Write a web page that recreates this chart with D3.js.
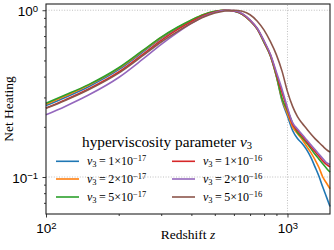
<!DOCTYPE html>
<html>
<head>
<meta charset="utf-8">
<script src="https://cdn.jsdelivr.net/npm/d3@7"></script>
<style>
  body { margin: 0; background: #fff; }
  svg { display: block; font-family: "Liberation Serif", "DejaVu Serif", serif; }
</style>
</head>
<body>
<svg id="chart" width="334" height="250"></svg>
<script>
// redshift grid the curves were read at
const redshift = [100, 120, 150, 200, 250, 300, 350, 400, 450, 500, 550, 600, 650, 700, 750,
  800, 850, 900, 950, 1000, 1050, 1100, 1150, 1200, 1250, 1300, 1350, 1400, 1450, 1500];

const heat1e17 = [0.268, 0.300, 0.348, 0.440, 0.558, 0.678, 0.780, 0.866, 0.938, 0.981, 1.000, 0.988, 0.945, 0.865, 0.770,
  0.640, 0.530, 0.400, 0.285, 0.232, 0.190, 0.170, 0.159, 0.146, 0.131, 0.115, 0.101, 0.087, 0.076, 0.0665];
const heat2e17 = [0.273, 0.306, 0.355, 0.448, 0.566, 0.686, 0.787, 0.872, 0.942, 0.983, 1.000, 0.990, 0.946, 0.866, 0.771,
  0.642, 0.532, 0.402, 0.290, 0.240, 0.200, 0.182, 0.168, 0.153, 0.140, 0.127, 0.114, 0.100, 0.092, 0.085];
const heat5e17 = [0.277, 0.310, 0.358, 0.452, 0.570, 0.690, 0.790, 0.875, 0.944, 0.984, 1.000, 0.990, 0.946, 0.866, 0.772,
  0.644, 0.535, 0.405, 0.295, 0.250, 0.210, 0.185, 0.172, 0.160, 0.148, 0.137, 0.128, 0.120, 0.113, 0.107];
const heat1e16 = [0.259, 0.290, 0.337, 0.426, 0.540, 0.660, 0.765, 0.855, 0.930, 0.977, 1.000, 0.990, 0.950, 0.870, 0.775,
  0.650, 0.540, 0.415, 0.320, 0.255, 0.207, 0.190, 0.176, 0.163, 0.152, 0.142, 0.133, 0.125, 0.119, 0.115];
const heat2e16 = [0.236, 0.265, 0.310, 0.395, 0.505, 0.625, 0.735, 0.835, 0.918, 0.970, 0.998, 0.995, 0.955, 0.875, 0.780,
  0.655, 0.545, 0.425, 0.335, 0.260, 0.212, 0.194, 0.180, 0.167, 0.156, 0.146, 0.137, 0.129, 0.122, 0.119];
const heat5e16 = [0.258, 0.288, 0.334, 0.420, 0.530, 0.645, 0.745, 0.835, 0.910, 0.962, 0.990, 1.000, 0.985, 0.940, 0.860,
  0.760, 0.648, 0.540, 0.430, 0.325, 0.265, 0.230, 0.210, 0.195, 0.181, 0.170, 0.161, 0.153, 0.146, 0.141];

const nuMantissa = ['1', '2', '5', '1', '2', '5'];
const nuExponent = ['\u221217', '\u221217', '\u221217', '\u221216', '\u221216', '\u221216'];
const colors = ['#1f77b4', '#ff7f0e', '#2ca02c', '#d62728', '#9467bd', '#8c564b'];
const allSeries = [heat1e17, heat2e17, heat5e17, heat1e16, heat2e16, heat5e16];

const xMajor = [100, 1000];
const xMinor = [200, 300, 400, 500, 600, 700, 800, 900];
const yMajor = [0.1, 1];
const yMinor = [0.07, 0.08, 0.09, 0.2, 0.3, 0.4, 0.5, 0.6, 0.7, 0.8, 0.9];

const margin = { left: 46, right: 4, top: 4, bottom: 36 };
const width = 334, height = 250;

const svg = d3.select('#chart');

const x = d3.scaleLog().domain([100, 1500]).range([margin.left, width - margin.right]);
const y = d3.scaleLog().domain([0.06, 1.09]).range([height - margin.bottom, margin.top]);

// grid at major ticks
const grid = svg.append('g')
  .attr('stroke', '#b0b0b0')
  .attr('stroke-width', 0.8)
  .attr('stroke-dasharray', '1,1.6');
grid.selectAll('.gx')
  .data(xMajor.filter(d => d > 100))
  .join('line')
  .attr('x1', d => x(d)).attr('x2', d => x(d))
  .attr('y1', y.range()[0]).attr('y2', y.range()[1]);
grid.selectAll('.gy')
  .data(yMajor)
  .join('line')
  .attr('y1', d => y(d)).attr('y2', d => y(d))
  .attr('x1', x.range()[0]).attr('x2', x.range()[1]);

// curves
const line = d3.line()
  .x((d, i) => x(redshift[i]))
  .y(d => y(d))
  .curve(d3.curveMonotoneX);

svg.append('g')
  .selectAll('path')
  .data(allSeries)
  .join('path')
  .attr('fill', 'none')
  .attr('stroke', (d, i) => colors[i])
  .attr('stroke-width', 1.6)
  .attr('d', line);

// axes
const bottom = height - margin.bottom;
svg.append('g')
  .attr('transform', `translate(0,${bottom})`)
  .call(d3.axisBottom(x).tickValues(xMinor).tickSize(2).tickFormat(''))
  .call(g => g.select('.domain').remove());
const xAx = svg.append('g')
  .attr('transform', `translate(0,${bottom})`)
  .call(d3.axisBottom(x).tickValues(xMajor).tickSize(3.5).tickFormat(''))
  .call(g => g.select('.domain').remove());

svg.append('g')
  .attr('transform', `translate(${margin.left},0)`)
  .call(d3.axisLeft(y).tickValues(yMinor).tickSize(2).tickFormat(''))
  .call(g => g.select('.domain').remove());
const yAx = svg.append('g')
  .attr('transform', `translate(${margin.left},0)`)
  .call(d3.axisLeft(y).tickValues(yMajor).tickSize(3.5).tickFormat(''))
  .call(g => g.select('.domain').remove());

svg.selectAll('.tick line').attr('stroke', '#222').attr('stroke-width', 0.9);

xAx.selectAll('.tick').append('text')
  .attr('y', 19)
  .attr('text-anchor', 'middle')
  .attr('fill', '#000')
  .attr('font-size', 13.5)
  .each(function (d) {
    const t = d3.select(this);
    t.append('tspan').text('10');
    t.append('tspan').attr('baseline-shift', '40%').attr('font-size', 9.5).text(Math.round(Math.log10(d)));
  });

yAx.selectAll('.tick').append('text')
  .attr('x', -8)
  .attr('dy', 5)
  .attr('text-anchor', 'end')
  .attr('fill', '#000')
  .attr('font-size', 13.5)
  .each(function (d) {
    const t = d3.select(this);
    t.append('tspan').text('10');
    t.append('tspan').attr('baseline-shift', '40%').attr('font-size', 9.5).text(String(Math.round(Math.log10(d))).replace('-', '\u2212'));
  });

// frame
svg.append('rect')
  .attr('x', margin.left).attr('y', margin.top)
  .attr('width', width - margin.left - margin.right)
  .attr('height', height - margin.top - margin.bottom)
  .attr('fill', 'none')
  .attr('stroke', '#222')
  .attr('stroke-width', 1.1);

// axis labels
svg.append('text')
  .attr('x', (x.range()[0] + x.range()[1]) / 2)
  .attr('y', 239)
  .attr('text-anchor', 'middle')
  .attr('font-size', 13.5)
  .call(t => {
    t.append('tspan').text('Redshift ');
    t.append('tspan').attr('font-style', 'italic').text('z');
  });

svg.append('text')
  .attr('transform', `translate(13,${(y.range()[0] + y.range()[1]) / 2}) rotate(-90)`)
  .attr('text-anchor', 'middle')
  .attr('font-size', 13.5)
  .text('Net Heating');

// legend
const legend = svg.append('g');
legend.append('text')
  .attr('x', 82).attr('y', 146.5)
  .attr('font-size', 15.3)
  .call(t => {
    t.append('tspan').text('hyperviscosity parameter ');
    t.append('tspan').attr('font-style', 'italic').text('\u03bd');
    t.append('tspan').attr('baseline-shift', '-22%').attr('font-size', 10.5).text('3');
  });

const rowY = [161.3, 179, 197];
const colX = [56, 172];
const item = legend.selectAll('.item')
  .data(colors)
  .join('g')
  .attr('transform', (d, i) => `translate(${colX[Math.floor(i / 3)]},${rowY[i % 3]})`);
item.append('line')
  .attr('x1', 0).attr('x2', 23)
  .attr('stroke', d => d)
  .attr('stroke-width', 1.6);
item.append('text')
  .attr('x', 31).attr('y', 4)
  .attr('font-size', 12)
  .each(function (d, i) {
    const t = d3.select(this);
    t.append('tspan').attr('font-style', 'italic').text('\u03bd');
    t.append('tspan').attr('baseline-shift', '-22%').attr('font-size', 8.5).text('3');
    t.append('tspan').text(`\u2009=\u20091\u00d710`.replace('1', nuMantissa[i]));
    t.append('tspan').attr('baseline-shift', '45%').attr('font-size', 8.5).text(nuExponent[i]);
  });
</script>
</body>
</html>
